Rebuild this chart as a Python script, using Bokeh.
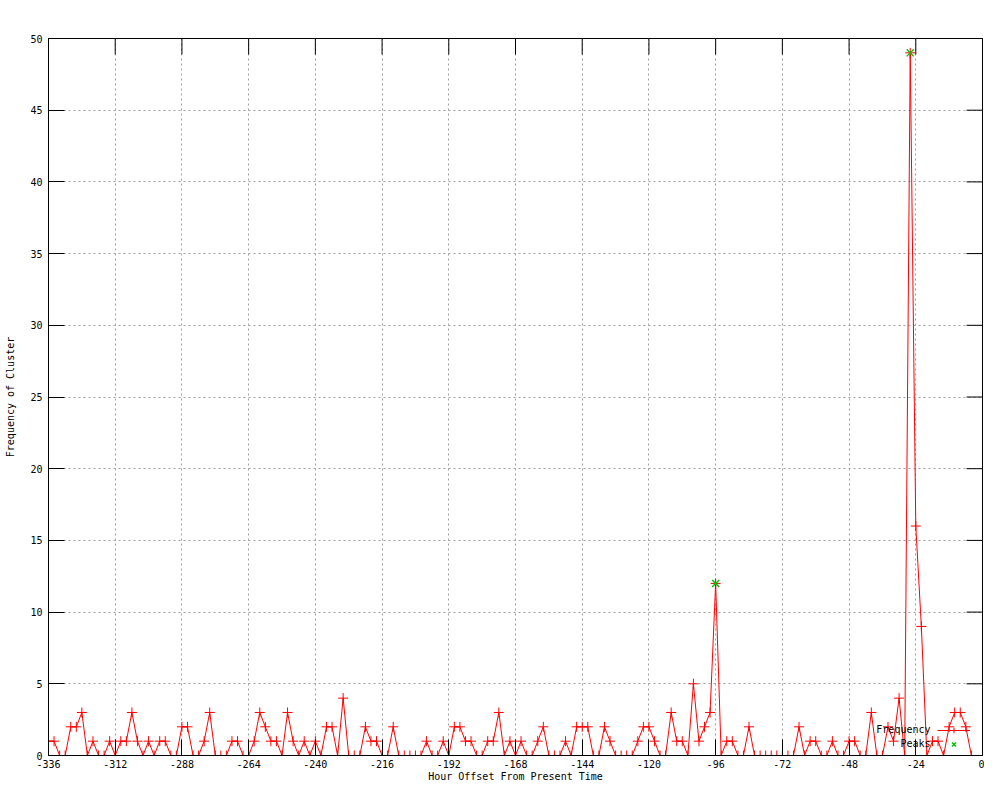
import math
from bokeh.plotting import figure
from bokeh.models import Range1d, FixedTicker, Label, Legend, LegendItem
from bokeh.embed import file_html
from bokeh.resources import INLINE

# ---- data ----
hours = list(range(-336, -2, 2))
freq = [
    1, 1, 0, 0, 2, 2, 3, 0, 1, 0, 0, 1,      # -336 .. -314
    0, 1, 1, 3, 1, 0, 1, 0, 1, 1, 0, 0,      # -312 .. -290
    2, 2, 0, 0, 1, 3, 0, 0, 0, 1, 1, 0,      # -288 .. -266
    0, 1, 3, 2, 1, 1, 0, 3, 1, 0, 1, 0,      # -264 .. -242
    1, 0, 2, 2, 0, 4, 0, 0, 0, 2, 1, 1,      # -240 .. -218
    0, 0, 2, 0, 0, 0, 0, 0, 1, 0, 0, 1,      # -216 .. -194
    0, 2, 2, 1, 1, 0, 0, 1, 1, 3, 0, 1,      # -192 .. -170
    0, 1, 0, 0, 1, 2, 0, 0, 0, 1, 0, 2,      # -168 .. -146
    2, 2, 0, 0, 2, 1, 0, 0, 0, 0, 1, 2,      # -144 .. -122
    2, 1, 0, 0, 3, 1, 1, 0, 5, 1, 2, 3,      # -120 .. -98
    12, 0, 1, 1, 0, 0, 2, 0, 0, 0, 0, 0,     # -96 .. -74
    0, 0, 0, 2, 0, 1, 1, 0, 0, 1, 0, 0,      # -72 .. -50
    1, 1, 0, 0, 3, 0, 0, 2, 1, 4, 0, 49,     # -48 .. -26
    16, 9, 0, 1, 1, 0, 2, 3, 3, 2, 0,        # -24 .. -4
]
peak_hours = [-96, -26]
peak_freq = [12, 49]
x_ticks = list(range(-336, 1, 24))
y_ticks = list(range(0, 51, 5))

FONT = "DejaVu Sans Mono"
FS = "10px"

p = figure(width=984, height=784, output_backend="svg", toolbar_location=None,
           x_range=Range1d(x_ticks[0], x_ticks[-1]), y_range=Range1d(y_ticks[0], y_ticks[-1]),
           min_border_left=48, min_border_right=2,
           min_border_top=38, min_border_bottom=24)
p.background_fill_color = "white"
p.border_fill_color = "white"
p.outline_line_color = "black"
p.outline_line_width = 1
p.outline_line_alpha = 1.0

for ax, ticks in ((p.xaxis[0], x_ticks), (p.yaxis[0], y_ticks)):
    ax.ticker = FixedTicker(ticks=ticks)
    ax.major_tick_in = 16
    ax.major_tick_out = 0
    ax.minor_tick_line_color = None
    ax.major_tick_line_color = "black"
    ax.axis_line_color = "black"
    ax.major_label_text_font = FONT
    ax.major_label_text_font_size = FS
    ax.major_label_text_color = "black"
    ax.major_label_overrides = {t: str(t) for t in ticks}
    ax.axis_label_text_font = FONT
    ax.axis_label_text_font_size = FS
    ax.axis_label_text_font_style = "normal"
    ax.axis_label_text_color = "black"

p.xaxis.major_label_standoff = 4
p.yaxis.major_label_standoff = 6
p.xaxis.axis_label = "Hour Offset From Present Time"
p.yaxis.axis_label = "Frequency of Cluster"
p.xaxis.axis_label_standoff = 0
p.yaxis.axis_label_standoff = 11

p.xgrid.ticker = FixedTicker(ticks=x_ticks)
p.ygrid.ticker = FixedTicker(ticks=y_ticks)
for g in (p.xgrid[0], p.ygrid[0]):
    g.grid_line_color = "#a0a0a0"
    g.grid_line_dash = "2 3"
    g.grid_line_width = 1

# mirrored inward ticks on the top and right borders (half of each dash is clipped)
p.scatter(x=x_ticks, y=[y_ticks[-1]] * len(x_ticks), marker="dash", angle=math.pi / 2,
          size=32, line_color="black", line_width=1)
p.scatter(x=[x_ticks[-1]] * len(y_ticks), y=y_ticks, marker="dash",
          size=32, line_color="black", line_width=1)

line_r = p.line(hours, freq, line_color="red", line_width=1)
pts_r = p.scatter(hours, freq, marker="cross", size=10, line_color="red", line_width=1)
peak_r = p.scatter(peak_hours, peak_freq, marker="x", size=10, line_color="#00c000", line_width=1.4)

legend = Legend(items=[LegendItem(label=" ", renderers=[line_r, pts_r]),
                       LegendItem(label=" ", renderers=[peak_r])],
                location=(889, 4), glyph_width=33, glyph_height=14, label_height=14,
                spacing=0, padding=0, margin=0, label_standoff=0,
                label_text_font=FONT, label_text_font_size=FS,
                background_fill_alpha=0, border_line_color=None)
p.add_layout(legend, "center")

p.add_layout(Label(x=x_ticks[-1], y=y_ticks[0], x_offset=-52, y_offset=26, text="Frequency",
                   text_align="right", text_baseline="middle",
                   text_font=FONT, text_font_size=FS, text_color="black"))
p.add_layout(Label(x=x_ticks[-1], y=y_ticks[0], x_offset=-52, y_offset=12, text="Peaks",
                   text_align="right", text_baseline="middle",
                   text_font=FONT, text_font_size=FS, text_color="black"))
p.add_layout(Label(x=(x_ticks[0] + x_ticks[-1]) / 2, y=y_ticks[-1], y_offset=20,
                   text="Frequency of Cluster 135583 Over Time: i\u2019m so sorry",
                   text_align="center", text_baseline="middle",
                   text_font=FONT, text_font_size=FS, text_color="black"))

open("out.html", "w").write(file_html(p, INLINE))
